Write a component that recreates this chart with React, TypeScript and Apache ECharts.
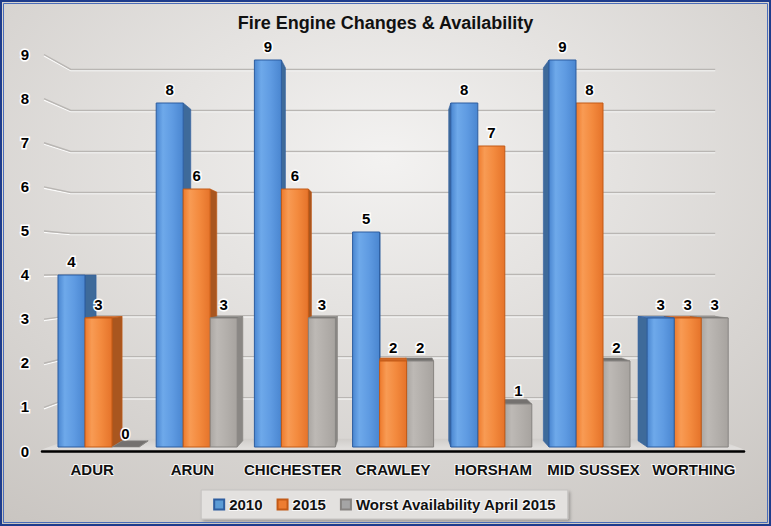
import React, { useEffect, useRef } from "react";
import * as echarts from "echarts";

const categories = ["ADUR", "ARUN", "CHICHESTER", "CRAWLEY", "HORSHAM", "MID SUSSEX", "WORTHING"];
const seriesNames = ["2010", "2015", "Worst Availability April 2015"];
const values2010 = [4, 8, 9, 5, 8, 9, 3];
const values2015 = [3, 6, 6, 2, 7, 8, 3];
const valuesWorst = [0, 3, 3, 2, 1, 2, 3];
const yTicks = [0, 1, 2, 3, 4, 5, 6, 7, 8, 9];
const Y_MIN = 0;
const Y_MAX = 9;

const FONT = "'Liberation Sans', Arial, sans-serif";
const DEPTH = 0.964; // perspective scale of bar back faces
const WALL_SX = 0.918;
const WALL_SY = 0.93;
const VP_VALUE = 4; // eye level on value axis
const BAR_RATIO = 0.275;

const palette = [
  {
    front: [
      [0, "#4a86d0"],
      [0.25, "#6ea9ea"],
      [0.6, "#5f9be2"],
      [1, "#4a86d0"],
    ],
    side: "#3e6a9a",
    top: "#5a8fcc",
    edge: "#2d5d9f",
    legend: "#5b9bd5",
  },
  {
    front: [
      [0, "#ee7a2c"],
      [0.25, "#f89b54"],
      [0.6, "#f38a3e"],
      [1, "#e5732a"],
    ],
    side: "#a9561f",
    top: "#cf6726",
    edge: "#c35a16",
    legend: "#ed7d31",
  },
  {
    front: [
      [0, "#aaa6a2"],
      [0.25, "#bdb9b5"],
      [0.6, "#b3afab"],
      [1, "#a7a39f"],
    ],
    side: "#8a8784",
    top: "#74716f",
    edge: "#878481",
    legend: "#a5a5a5",
  },
];

const allValues = [values2010, values2015, valuesWorst];

export default function App() {
  const ref = useRef<HTMLDivElement>(null);

  useEffect(() => {
    document.body.style.margin = "0";
    if (!ref.current) return;
    const chart = echarts.init(ref.current, undefined, { renderer: "svg" });

    // bar data ordered so bars farther from the centre draw first
    const centreIdx = Math.floor(categories.length / 2) * 3 + 1;
    const barData: number[][] = [];
    categories.forEach((_, c) => {
      allValues.forEach((vals, s) => {
        barData.push([c, s, vals[c]]);
      });
    });
    barData.sort(
      (a, b) => Math.abs(b[0] * 3 + b[1] - centreIdx) - Math.abs(a[0] * 3 + a[1] - centreIdx)
    );

    const renderBar = (params: any, api: any) => {
      const c = api.value(0);
      const s = api.value(1);
      const v = api.value(2);
      const cs = params.coordSys;
      const base = api.coord([c, 0]);
      const topPt = api.coord([c, v]);
      const band = api.size([1, 0])[0];
      const bw = band * BAR_RATIO;
      const x0 = base[0] - 1.5 * bw + s * bw;
      const x1 = x0 + bw;
      const yT = topPt[1];
      const yB = base[1];
      const vpx = cs.x + cs.width / 2;
      const vpy = api.coord([0, VP_VALUE])[1];
      const back = (x: number, y: number) => [vpx + DEPTH * (x - vpx), vpy + DEPTH * (y - vpy)];
      const p = palette[s];
      const children: any[] = [];
      const bT0 = back(x0, yT);
      const bT1 = back(x1, yT);
      if (bT0[1] < yT) {
        children.push({
          type: "polygon",
          shape: { points: [[x0, yT], [x1, yT], bT1, bT0] },
          style: { fill: p.top, stroke: p.edge, lineWidth: 0.6 },
        });
      }
      if (x1 < vpx) {
        const bB1 = back(x1, yB);
        children.push({
          type: "polygon",
          shape: { points: [[x1, yT], bT1, bB1, [x1, yB]] },
          style: { fill: p.side, stroke: p.edge, lineWidth: 0.6 },
        });
      } else if (x0 > vpx) {
        const bB0 = back(x0, yB);
        children.push({
          type: "polygon",
          shape: { points: [[x0, yT], bT0, bB0, [x0, yB]] },
          style: { fill: p.side, stroke: p.edge, lineWidth: 0.6 },
        });
      }
      if (yB - yT > 0.5) {
        children.push({
          type: "rect",
          shape: { x: x0, y: yT, width: bw, height: yB - yT },
          style: {
            fill: {
              type: "linear",
              x: 0,
              y: 0,
              x2: 1,
              y2: 0,
              colorStops: p.front.map((st) => ({ offset: st[0], color: st[1] })),
            },
            stroke: p.edge,
            lineWidth: 1,
          },
        });
      }
      children.push({
        type: "text",
        z2: 100,
        style: {
          text: String(v),
          x: x0 + bw / 2,
          y: yT - 14,
          textAlign: "center",
          textVerticalAlign: "middle",
          font: `bold 15px ${FONT}`,
          fill: "#000",
          stroke: "#ffffff",
          lineWidth: 3,
        },
      });
      return { type: "group", children };
    };

    const renderWall = (params: any, api: any) => {
      const v = api.value(0);
      const cs = params.coordSys;
      const front = api.coord([0, v]);
      const fx0 = cs.x;
      const fx1 = cs.x + cs.width;
      const fy = front[1];
      const vpx = cs.x + cs.width / 2;
      const vpy = api.coord([0, VP_VALUE])[1];
      const bx0 = vpx + WALL_SX * (fx0 - vpx);
      const bx1 = vpx + WALL_SX * (fx1 - vpx);
      const by = vpy + WALL_SY * (fy - vpy);
      const children: any[] = [];
      if (v === Y_MIN) {
        children.push({
          type: "polygon",
          shape: { points: [[fx0, fy - 1.5], [fx1, fy - 1.5], [bx1, by], [bx0, by]] },
          style: {
            fill: {
              type: "linear",
              x: 0,
              y: 0,
              x2: 0,
              y2: 1,
              colorStops: [
                { offset: 0, color: "#cfccc9" },
                { offset: 1, color: "#e3e1df" },
              ],
            },
          },
        });
      } else {
        children.push({
          type: "polyline",
          shape: { points: [[fx0 + 2, fy + 2], [bx0, by + 1.2], [bx1, by + 1.2]] },
          style: { stroke: "rgba(255,255,255,0.9)", lineWidth: 1.2, fill: "none" },
        });
        children.push({
          type: "polyline",
          shape: { points: [[fx0 + 2, fy + 0.5], [bx0, by], [bx1, by]] },
          style: { stroke: "#b9b6b3", lineWidth: 1.4, fill: "none" },
        });
      }
      return { type: "group", children };
    };

    const option: any = {
      animation: false,
      graphic: [
        {
          type: "rect",
          z: -10,
          silent: true,
          shape: { x: 0, y: 0, width: 771, height: 526 },
          style: {
            fill: {
              type: "radial",
              x: 0.5,
              y: 0.3,
              r: 0.85,
              colorStops: [
                { offset: 0, color: "#f3f2f1" },
                { offset: 1, color: "#c9c5c1" },
              ],
            },
          },
        },
        {
          type: "rect",
          z: 100,
          silent: true,
          shape: { x: 1, y: 1, width: 769, height: 524 },
          style: { fill: "none", stroke: "#1e3c8c", lineWidth: 2 },
        },
        {
          type: "rect",
          z: 100,
          silent: true,
          shape: { x: 3.5, y: 3.5, width: 764, height: 519 },
          style: { fill: "none", stroke: "#4a6cb8", lineWidth: 1 },
        },
      ],
      title: {
        text: "Fire Engine Changes & Availability",
        left: "center",
        top: 9,
        textStyle: { fontFamily: FONT, fontSize: 18, fontWeight: "bold", color: "#111" },
      },
      legend: {
        data: seriesNames,
        left: "center",
        top: 490,
        icon: "rect",
        itemWidth: 10,
        itemHeight: 10,
        itemGap: 13,
        padding: [6, 10, 6, 12],
        backgroundColor: "#e3e1df",
        borderColor: "#c4c2c0",
        borderWidth: 1,
        shadowBlur: 3,
        shadowOffsetX: 2,
        shadowOffsetY: 2,
        shadowColor: "rgba(0,0,0,0.25)",
        textStyle: {
          fontFamily: FONT,
          fontSize: 15,
          fontWeight: "bold",
          color: "#111",
          textBorderColor: "rgba(255,255,255,0.8)",
          textBorderWidth: 2,
        },
      },
      grid: [
        { left: 49.4, right: 34.2, top: 60, bottom: 79 },
        { left: 42, right: 27, top: 54, bottom: 75 },
      ],
      xAxis: [
        {
          type: "category",
          gridIndex: 0,
          data: categories,
          axisLine: { show: false },
          axisTick: { show: false },
          axisLabel: { show: false },
        },
        {
          type: "category",
          gridIndex: 1,
          data: categories,
          z: 10,
          axisLine: { show: true, lineStyle: { color: "#000", width: 2.5 } },
          axisTick: { show: false },
          axisLabel: {
            interval: 0,
            margin: 11,
            fontFamily: FONT,
            fontSize: 15,
            fontWeight: "bold",
            color: "#111",
            textBorderColor: "rgba(255,255,255,0.85)",
            textBorderWidth: 2,
          },
        },
      ],
      yAxis: [
        {
          type: "value",
          gridIndex: 0,
          min: Y_MIN,
          max: Y_MAX,
          interval: 1,
          axisLine: { show: false },
          axisTick: { show: false },
          axisLabel: { show: false },
          splitLine: { show: false },
        },
        {
          type: "value",
          gridIndex: 1,
          min: Y_MIN,
          max: Y_MAX,
          interval: 1,
          axisLine: { show: false },
          axisTick: { show: false },
          splitLine: { show: false },
          axisLabel: {
            margin: 17,
            align: "center",
            fontFamily: FONT,
            fontSize: 15,
            fontWeight: "bold",
            color: "#000",
            textBorderColor: "#ffffff",
            textBorderWidth: 3,
          },
        },
      ],
      series: [
        {
          type: "custom",
          name: "wall",
          xAxisIndex: 1,
          yAxisIndex: 1,
          z: 1,
          silent: true,
          renderItem: renderWall,
          data: yTicks.map((t) => [t]),
        },
        ...seriesNames.map((name, i) => ({
          type: "bar",
          name,
          xAxisIndex: 0,
          yAxisIndex: 0,
          data: [],
          itemStyle: { color: palette[i].legend, borderColor: palette[i].edge, borderWidth: 1 },
        })),
        {
          type: "custom",
          name: "bars",
          xAxisIndex: 0,
          yAxisIndex: 0,
          z: 3,
          silent: true,
          renderItem: renderBar,
          encode: { x: 0, y: 2 },
          data: barData,
        },
      ],
    };

    chart.setOption(option);
    return () => chart.dispose();
  }, []);

  return <div ref={ref} style={{ width: 771, height: 526 }} />;
}
